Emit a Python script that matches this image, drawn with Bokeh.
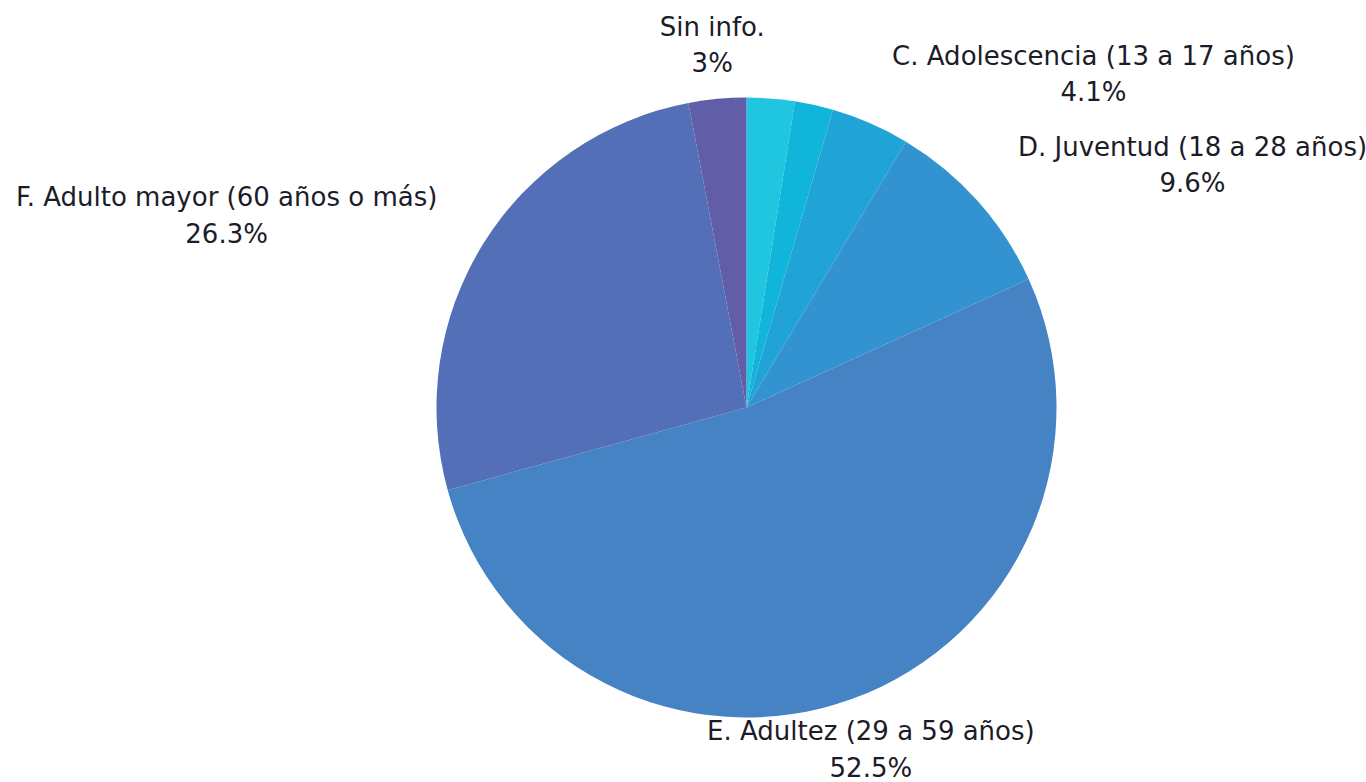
import math
from bokeh.plotting import figure
from bokeh.models import ColumnDataSource, Range1d
from bokeh.core.properties import value
from bokeh.embed import file_html
from bokeh.resources import INLINE

# ---- data ----
categories = ["A. Primera infancia", "B. Infancia", "C. Adolescencia (13 a 17 años)",
              "D. Juventud (18 a 28 años)", "E. Adultez (29 a 59 años)",
              "F. Adulto mayor (60 años o más)", "Sin info."]
percentages = [2.5, 2.0, 4.1, 9.6, 52.5, 26.3, 3.0]
pct_labels = ["2.5%", "2%", "4.1%", "9.6%", "52.5%", "26.3%", "3%"]
show_label = [False, False, True, True, True, True, True]
colors = ["#20C5E0", "#10B5D9", "#20A3D6", "#3392D0", "#4583C5", "#536FB7", "#615EA7"]

W, H = 1366, 782
OX, OY = 0, 0  # observed page offset of the figure
CX, CY = 746, 782 - 407   # pie centre in page pixels (y measured from bottom)
R = 310

total = sum(percentages)
starts, ends, mids = [], [], []
cum = 0.0
for v in percentages:
    a0 = math.pi / 2 - 2 * math.pi * cum / total
    cum += v
    a1 = math.pi / 2 - 2 * math.pi * cum / total
    starts.append(a0)
    ends.append(a1)
    mids.append((a0 + a1) / 2)

src = ColumnDataSource(dict(start=starts, end=ends, color=colors,
                            x=[CX] * len(colors), y=[CY] * len(colors)))

p = figure(width=W, height=H, output_backend="svg", toolbar_location=None,
           x_range=Range1d(OX, OX + W), y_range=Range1d(782 - OY - H, 782 - OY),
           min_border=0, outline_line_color=None)
p.axis.visible = False
p.grid.visible = False
p.background_fill_color = "white"
p.border_fill_color = "white"

p.wedge(x="x", y="y", radius=R, start_angle="start", end_angle="end",
        direction="clock", fill_color="color", line_color=None, source=src)

# outside labels
lx, ly, ltext, lanchor = [], [], [], []
LR = R + 54
for show, name, pl, m in zip(show_label, categories, pct_labels, mids):
    if not show:
        continue
    cx = CX + LR * math.cos(m)
    cy = CY + LR * math.sin(m)
    if abs(math.cos(m)) < 0.37:
        anc = "center"
    elif math.cos(m) > 0:
        anc = "center_left"
    else:
        anc = "center_right"
    lx.append(cx)
    ly.append(cy)
    ltext.append(name + "\n" + pl)
    lanchor.append(anc)

lsrc = ColumnDataSource(dict(x=lx, y=ly, text=ltext, anchor=lanchor))
p.text(x="x", y="y", text="text", anchor="anchor", source=lsrc,
       text_align="center", text_baseline="middle",
       text_font=value("DejaVu Sans"), text_font_size="26px",
       text_color="#1c1c28", text_line_height=1.22)

open("out.html", "w").write(file_html(p, INLINE))
